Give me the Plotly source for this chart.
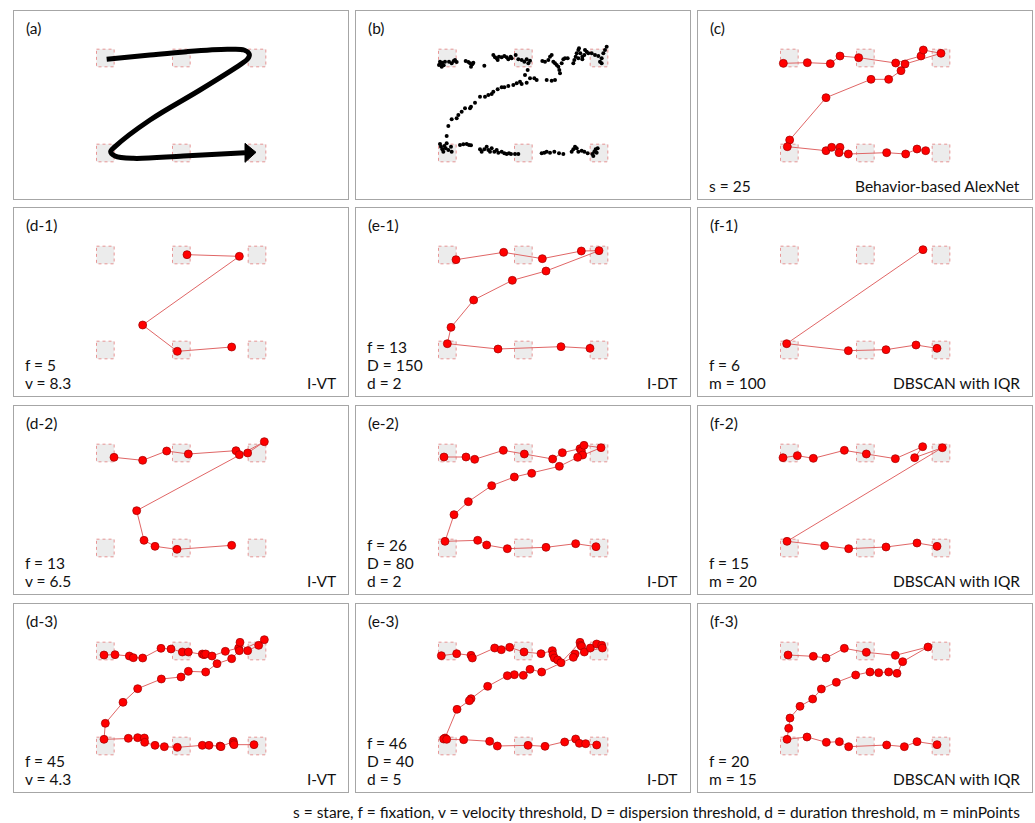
import plotly.graph_objects as go

FIG_W, FIG_H = 1035, 823
STIM_W, STIM_H = 1002, 564          # stimulus frame shown in every panel

# panel grid (pixels)
COL_LEFT = [14, 356, 698]
ROW_TOP = [11, 208, 406, 604]
PANEL_W, PANEL_H = 334, 188

# areas of interest (stimulus units)
aoi_x = [274, 502, 729]
aoi_y = [141, 426]
aoi_size = 53

# (a) intended reading path
path_a_x = [278, 408, 518, 640, 690, 706, 700, 680, 558, 408, 303, 290, 303, 358, 508, 693]
path_a_y = [145, 132, 122, 115, 117, 130, 145, 160, 237, 327, 407, 422, 435, 442, 435, 425]
arrow_a_x = [726, 693, 693]
arrow_a_y = [424, 397, 454]

# (b) raw gaze samples
gaze_b_x = [249, 254, 259, 263, 257, 267, 252, 279, 287, 293, 297, 302, 329, 337, 342, 345, 349, 352,
            385, 412, 417, 422, 425, 429, 437, 445, 452, 457, 464, 467, 479, 487, 497, 505, 512, 517,
            522, 559, 567, 577, 582, 587, 592, 597, 602, 607, 610, 612, 617, 622, 627, 635, 652, 655,
            659, 662, 667, 669, 673, 679, 685, 687, 692, 697, 707, 717, 727, 737, 742, 747, 752, 667,
            679, 737, 732,
            515, 507, 522, 512, 497, 492, 482, 472, 457, 445, 437, 425, 412, 407, 397, 387, 372, 357,
            345, 342, 327, 317, 307, 302, 287, 277, 272, 572, 587, 597, 542, 535,
            252, 255, 259, 265, 269, 277, 285, 287, 262, 272, 312, 322, 332, 339, 345, 372, 377, 385,
            392, 397, 402, 407, 415, 422, 427, 437, 445, 452, 459, 465, 477, 487, 557, 565, 572, 582,
            595, 609, 622, 647, 652, 657, 662, 667, 677, 685, 695, 709, 715, 719, 725, 712, 722]
gaze_b_y = [162, 157, 155, 163, 167, 152, 152, 152, 157, 150, 147, 153, 150, 153, 157, 167, 160, 155,
            164, 132, 139, 142, 147, 137, 139, 135, 139, 145, 137, 142, 132, 145, 147, 152, 145, 157,
            149, 150, 152, 147, 137, 132, 152, 157, 162, 167, 177, 187, 157, 145, 142, 142, 157, 147,
            137, 127, 117, 112, 127, 137, 132, 117, 122, 127, 127, 132, 135, 142, 127, 117, 107, 142,
            145, 157, 152,
            177, 192, 202, 215, 219, 212, 217, 222, 225, 229, 229, 235, 242, 249, 252, 257, 257, 275,
            287, 292, 292, 302, 312, 322, 325, 345, 375, 207, 209, 207, 207, 202,
            399, 407, 415, 405, 412, 417, 407, 422, 422, 397, 402, 400, 399, 402, 403, 415, 422, 415,
            407, 417, 422, 412, 422, 417, 425, 422, 427, 429, 427, 429, 429, 429, 427, 425, 422, 425,
            422, 427, 429, 422, 415, 407, 412, 422, 419, 422, 427, 429, 422, 415, 412, 435, 425]

# (c) Behavior-based AlexNet, s = 25
fix_c_x = [256, 328, 397, 426, 482, 593, 669, 676, 729, 621, 609, 572, 519, 384, 275, 268,
           384, 401, 426, 423, 451, 566, 623, 657, 683]
fix_c_y = [157, 155, 158, 135, 140, 156, 135, 117, 127, 159, 179, 205, 205, 260, 387, 407,
           419, 409, 409, 425, 429, 425, 429, 414, 419]

# (d-1) I-VT, v = 8.3
fix_d1_x = [519, 676, 386, 490, 653]
fix_d1_y = [140, 145, 351, 430, 417]

# (e-1) I-DT, D = 150, d = 2
fix_e1_x = [300, 443, 559, 676, 729, 570, 469, 353, 285, 274, 426, 615, 702]
fix_e1_y = [155, 133, 152, 129, 128, 189, 217, 276, 358, 407, 423, 416, 421]

# (f-1) DBSCAN with IQR, m = 100
fix_f1_x = [675, 266, 451, 564, 654, 717]
fix_f1_y = [125, 407, 428, 425, 411, 421]

# (d-2) I-VT, v = 6.5
fix_d2_x = [300, 386, 458, 523, 666, 676, 701, 751, 368, 390, 423, 489, 653]
fix_d2_y = [154, 163, 135, 144, 134, 146, 141, 107, 314, 403, 421, 430, 418]

# (e-2) I-DT, D = 80, d = 2
fix_e2_x = [264, 330, 356, 442, 505, 590, 619, 672, 676, 684, 735, 680, 665, 610, 527, 475,
            407, 337, 294, 267, 365, 392, 454, 570, 659, 720]
fix_e2_y = [153, 153, 160, 133, 144, 159, 140, 128, 134, 118, 125, 147, 154, 181, 202, 213,
            239, 287, 326, 406, 403, 417, 428, 424, 413, 422]

# (f-2) DBSCAN with IQR, m = 20
fix_f2_x = [255, 298, 346, 439, 505, 592, 674, 650, 733, 267, 380, 452, 564, 657, 717]
fix_f2_y = [155, 149, 157, 133, 144, 158, 122, 155, 125, 406, 419, 428, 423, 411, 421]

# (d-3) I-VT, v = 4.3
fix_d3_x = [270, 303, 346, 358, 386, 441, 471, 505, 523, 565, 570, 575, 594, 634, 674, 678,
            701, 734, 751, 676, 653, 609, 575, 523, 501, 442, 371, 327, 274, 270, 343, 371,
            391, 392, 423, 451, 490, 565, 585, 618, 621, 658, 658, 660, 720]
fix_d3_y = [153, 152, 156, 161, 162, 133, 135, 144, 144, 150, 152, 150, 156, 142, 132, 115,
            140, 124, 107, 140, 164, 179, 204, 202, 219, 225, 254, 295, 358, 406, 403, 401,
            402, 415, 424, 428, 430, 424, 424, 426, 428, 412, 418, 422, 422]

# (e-3) I-DT, D = 40, d = 5
fix_e3_x = [256, 302, 345, 349, 416, 436, 461, 504, 555, 589, 591, 595, 605, 615, 672, 674,
            677, 685, 703, 722, 737, 739, 657, 652, 557, 522, 502, 475, 454, 395, 345, 340,
            303, 267, 263, 272, 323, 401, 424, 516, 567, 626, 659, 670, 689, 722]
fix_e3_y = [155, 149, 154, 162, 132, 137, 130, 144, 149, 140, 152, 162, 168, 176, 115, 124,
            127, 144, 132, 120, 124, 132, 150, 160, 204, 196, 214, 212, 215, 247, 284, 290,
            316, 402, 405, 406, 407, 412, 426, 424, 427, 414, 405, 418, 419, 423]

# (f-3) DBSCAN with IQR, m = 15
fix_f3_x = [270, 346, 384, 439, 505, 592, 690, 614, 597, 572, 542, 516, 473, 415, 370, 344,
            306, 276, 272, 267, 327, 385, 424, 452, 566, 619, 657, 717]
fix_f3_y = [153, 157, 162, 133, 145, 154, 129, 173, 208, 204, 206, 204, 213, 235, 255, 285,
            307, 342, 373, 406, 399, 415, 413, 428, 423, 428, 413, 422]

panels = [
    # label, row, col, data, bottom-left lines, bottom-right text
    ("(a)", 0, 0, None, [], ""),
    ("(b)", 0, 1, None, [], ""),
    ("(c)", 0, 2, (fix_c_x, fix_c_y), ["s = 25"], "Behavior-based AlexNet"),
    ("(d-1)", 1, 0, (fix_d1_x, fix_d1_y), ["f = 5", "v = 8.3"], "I-VT"),
    ("(e-1)", 1, 1, (fix_e1_x, fix_e1_y), ["f = 13", "D = 150", "d = 2"], "I-DT"),
    ("(f-1)", 1, 2, (fix_f1_x, fix_f1_y), ["f = 6", "m = 100"], "DBSCAN with IQR"),
    ("(d-2)", 2, 0, (fix_d2_x, fix_d2_y), ["f = 13", "v = 6.5"], "I-VT"),
    ("(e-2)", 2, 1, (fix_e2_x, fix_e2_y), ["f = 26", "D = 80", "d = 2"], "I-DT"),
    ("(f-2)", 2, 2, (fix_f2_x, fix_f2_y), ["f = 15", "m = 20"], "DBSCAN with IQR"),
    ("(d-3)", 3, 0, (fix_d3_x, fix_d3_y), ["f = 45", "v = 4.3"], "I-VT"),
    ("(e-3)", 3, 1, (fix_e3_x, fix_e3_y), ["f = 46", "D = 40", "d = 5"], "I-DT"),
    ("(f-3)", 3, 2, (fix_f3_x, fix_f3_y), ["f = 20", "m = 15"], "DBSCAN with IQR"),
]

footer = ("s = stare, f = fixation, v = velocity threshold, D = dispersion threshold, "
          "d = duration threshold, m = minPoints")

FONT = "Lato, 'Open Sans', sans-serif"
TEXT_SIZE = 15.5


def px(x):
    return x / FIG_W


def py(y):
    return 1 - y / FIG_H


fig = go.Figure()
layout = dict(width=FIG_W, height=FIG_H, autosize=False,
              margin=dict(l=0, r=0, t=0, b=0),
              paper_bgcolor="white", plot_bgcolor="white",
              showlegend=False, font=dict(family=FONT, size=TEXT_SIZE, color="#111111"))
shapes, annotations = [], []

for i, (label, r, c, data, params, method) in enumerate(panels, start=1):
    left, top = COL_LEFT[c], ROW_TOP[r]
    xa = "x" if i == 1 else f"x{i}"
    ya = "y" if i == 1 else f"y{i}"
    layout["xaxis" if i == 1 else f"xaxis{i}"] = dict(
        domain=[px(left), px(left + PANEL_W)], range=[0, STIM_W], anchor=ya,
        showgrid=False, zeroline=False, showticklabels=False, ticks="",
        showline=True, mirror=True, linecolor="#a6a6a6", linewidth=1, fixedrange=True)
    layout["yaxis" if i == 1 else f"yaxis{i}"] = dict(
        domain=[py(top + PANEL_H), py(top)], range=[STIM_H, 0], anchor=xa,
        showgrid=False, zeroline=False, showticklabels=False, ticks="",
        showline=True, mirror=True, linecolor="#a6a6a6", linewidth=1, fixedrange=True)

    # areas of interest
    h = aoi_size / 2
    for ay in aoi_y:
        for ax in aoi_x:
            shapes.append(dict(type="rect", xref=xa, yref=ya, layer="below",
                               x0=ax - h, x1=ax + h, y0=ay - h, y1=ay + h,
                               fillcolor="#ececec",
                               line=dict(color="rgba(225,110,110,0.7)", width=1, dash="dot")))

    if label == "(a)":
        fig.add_trace(go.Scatter(x=path_a_x, y=path_a_y, xaxis=xa, yaxis=ya, mode="lines",
                                 line=dict(color="black", width=5, shape="spline", smoothing=1.0),
                                 hoverinfo="skip"))
        fig.add_trace(go.Scatter(x=arrow_a_x + arrow_a_x[:1], y=arrow_a_y + arrow_a_y[:1],
                                 xaxis=xa, yaxis=ya, mode="lines", fill="toself",
                                 fillcolor="black", line=dict(color="black", width=1),
                                 hoverinfo="skip"))
    elif label == "(b)":
        fig.add_trace(go.Scatter(x=gaze_b_x, y=gaze_b_y, xaxis=xa, yaxis=ya, mode="markers",
                                 marker=dict(color="black", size=4, line=dict(width=0)),
                                 hoverinfo="skip"))
    else:
        fx, fy = data
        fig.add_trace(go.Scatter(x=fx, y=fy, xaxis=xa, yaxis=ya, mode="lines+markers",
                                 line=dict(color="#e06666", width=1),
                                 marker=dict(color="#ff0000", size=8,
                                             line=dict(color="#a00000", width=0.7)),
                                 hoverinfo="skip"))

    annotations.append(dict(text=label, xref="paper", yref="paper",
                            x=px(left + 10), y=py(top + 17), xanchor="left", yanchor="middle",
                            showarrow=False, font=dict(size=TEXT_SIZE)))
    n = len(params)
    for k, line in enumerate(params):
        annotations.append(dict(text=line, xref="paper", yref="paper",
                                x=px(left + 9), y=py(top + 175 - 18 * (n - 1 - k)),
                                xanchor="left", yanchor="middle", showarrow=False,
                                font=dict(size=TEXT_SIZE)))
    if method:
        annotations.append(dict(text=method, xref="paper", yref="paper",
                                x=px(left + PANEL_W - 10), y=py(top + 175),
                                xanchor="right", yanchor="middle", showarrow=False,
                                font=dict(size=TEXT_SIZE)))

annotations.append(dict(text=footer, xref="paper", yref="paper",
                        x=px(1022), y=py(812), xanchor="right", yanchor="middle",
                        showarrow=False, font=dict(size=TEXT_SIZE)))

layout["shapes"] = shapes
layout["annotations"] = annotations
fig.update_layout(**layout)
fig.write_html("out.html")
